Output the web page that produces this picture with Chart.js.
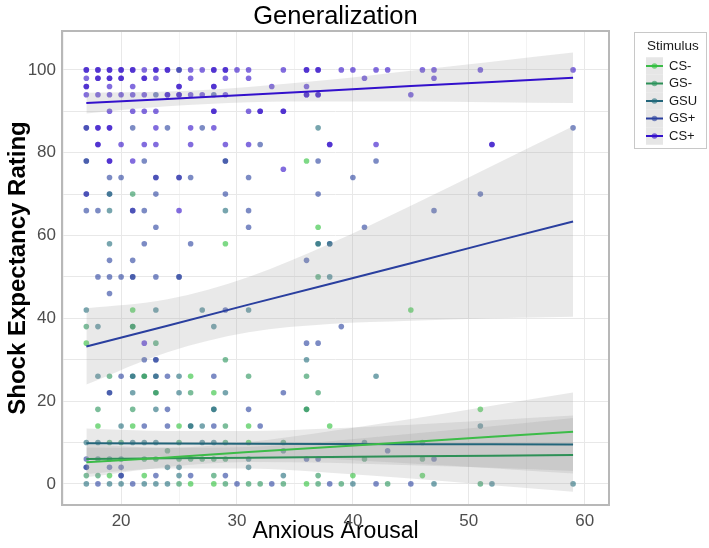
<!DOCTYPE html>
<html>
<head>
<meta charset="utf-8">
<script src="https://cdn.jsdelivr.net/npm/chart.js@4.4.1/dist/chart.umd.min.js"></script>
<style>
  html, body { margin: 0; padding: 0; background: #fff; }
  #chart { display: block; }
</style>
</head>
<body>
<canvas id="chart" width="709" height="548"></canvas>
<script>
const groups = ['CS-', 'GS-', 'GSU', 'GS+', 'CS+'];
const pointColors = ['rgba(47,194,59,0.62)', 'rgba(42,149,92,0.62)', 'rgba(36,109,125,0.62)', 'rgba(44,67,160,0.62)', 'rgba(53,17,201,0.62)'];
const lineColors = ['#3cbc48', '#2e9057', '#23657a', '#2a3f9f', '#3311cc'];

// rows of points: [rating, [anxious arousal values...]]
const csMinusRows = [
  [78, [36]], [62, [37]], [58, [29]], [42, [21, 45]], [34, [17]], [26, [26]],
  [22, [28]], [18, [51]], [14, [18, 21, 25, 31, 38]], [10, [31]],
  [2, [19, 22, 40, 46]], [0, [26, 28, 36]]
];
const gsMinusRows = [
  [70, [21]], [50, [37]], [38, [17, 21, 21]], [34, [23]], [30, [29]],
  [26, [19, 22, 22, 31, 36]], [22, [23, 23, 26, 37]], [18, [18, 21, 36, 36]],
  [14, [29]], [10, [19, 20, 25, 29, 34, 46]], [8, [24]],
  [6, [22, 23, 25, 26, 27, 28, 29, 41, 46]], [2, [17, 18, 28, 37]],
  [0, [25, 29, 31, 32, 34, 37, 39, 43, 51]]
];
const gsuRows = [
  [86, [37]], [70, [19]], [66, [19, 29]], [58, [19, 37, 37, 38]], [50, [38]],
  [42, [17, 23, 27, 31]], [38, [18, 28]], [30, [36]], [26, [18, 21, 21, 23, 25, 42]],
  [22, [21, 25, 29]], [18, [23, 28, 28]], [14, [20, 26, 26, 27, 51]],
  [10, [17, 18, 21, 22, 23, 27, 28, 41]], [8, [34]], [6, [18, 19, 20, 31]],
  [4, [24, 25, 31]], [2, [25, 34]], [0, [17, 19, 20, 22, 23, 24, 40, 47, 52, 59]]
];
const gsPlusRows = [
  [100, [25]], [94, [23, 28]], [86, [17, 21, 24, 27, 59]], [82, [32]],
  [78, [17, 17, 22, 29, 29, 37, 42]], [74, [19, 20, 23, 25, 26, 31, 40]],
  [70, [17, 19, 23, 29, 37, 51]], [66, [17, 18, 21, 22, 31, 47]], [62, [23, 31, 41]],
  [58, [22, 26, 38]], [54, [19, 21, 36]], [50, [18, 19, 20, 21, 21, 23, 25, 25]],
  [46, [19]], [42, [29]], [38, [39]], [34, [36, 37]], [30, [22, 23, 23]],
  [26, [20, 23, 24, 28]], [22, [19, 19, 34]], [18, [24, 31]], [14, [22, 24, 28, 32]],
  [8, [43]], [6, [17, 36, 37, 47]], [4, [17, 17, 19, 20]], [2, [20, 20, 23, 26, 29]],
  [0, [18, 21, 30, 33, 38, 42, 45]]
];
const csPlusRows = [
  [100, [17, 17, 18, 18, 19, 19, 20, 20, 21, 21, 22, 23, 23, 24, 24, 25, 26, 27, 28, 28,
         29, 29, 30, 31, 34, 36, 36, 37, 37, 39, 40, 42, 43, 46, 47, 51, 59]],
  [98, [17, 18, 18, 19, 19, 20, 20, 22, 22, 23, 26, 29, 31, 41, 47]],
  [96, [17, 17, 19, 21, 25, 25, 28, 28, 33, 36]],
  [94, [17, 18, 19, 20, 21, 22, 24, 24, 25, 25, 26, 27, 29, 36, 36, 37, 37, 45]],
  [90, [19, 21, 22, 23, 28, 28, 31, 32, 32, 34, 34]],
  [86, [17, 18, 18, 19, 19, 23, 26, 28]],
  [82, [18, 18, 20, 22, 23, 26, 29, 31, 38, 38, 42, 52, 52]],
  [78, [19, 19, 21]], [76, [34]], [74, [23, 25]], [70, [17]], [66, [21, 25]], [34, [22]]
];

// linear fits and confidence bands, read at these x positions
const fitX = [17, 24, 31, 38, 45, 52, 59];
const csMinusFit = [5.2, 6.4, 7.7, 8.9, 10.1, 11.4, 12.6];
const csMinusLo = [1.6, 4.1, 5.3, 5.1, 4.5, 3.9, 3.1];
const csMinusHi = [8.8, 8.7, 10.1, 12.7, 15.7, 18.9, 22.1];
const gsMinusFit = [6.0, 6.2, 6.3, 6.5, 6.7, 6.8, 7.0];
const gsMinusLo = [2.4, 3.7, 3.7, 2.7, 1.3, -0.3, -1.9];
const gsMinusHi = [9.6, 8.7, 8.9, 10.3, 12.1, 13.9, 15.9];
const gsuFit = [9.8, 9.75, 9.7, 9.65, 9.6, 9.55, 9.5];
const gsuLo = [6.2, 6.7, 6.6, 6.0, 4.9, 3.8, 2.5];
const gsuHi = [13.4, 12.8, 12.8, 13.4, 14.3, 15.4, 16.5];
const gsPlusFit = [33.2, 38.2, 43.3, 48.3, 53.3, 58.4, 63.4];
const gsPlusLo = [24.0, 31.8, 36.6, 38.6, 39.4, 40.0, 40.4];
const gsPlusHi = [42.4, 44.6, 50.0, 58.0, 67.2, 76.8, 86.4];
const csPlusFit = [92.0, 93.0, 94.0, 95.0, 96.1, 97.1, 98.1];
const csPlusLo = [89.5, 91.2, 92.2, 92.4, 92.4, 92.2, 92.0];
const csPlusHi = [94.5, 94.8, 95.9, 97.6, 99.8, 102.0, 104.2];

const xTicks = [15, 20, 25, 30, 35, 40, 45, 50, 55, 60];
const yTicks = [0, 10, 20, 30, 40, 50, 60, 70, 80, 90, 100];

const series = [
  { rows: csMinusRows, fit: csMinusFit, lo: csMinusLo, hi: csMinusHi },
  { rows: gsMinusRows, fit: gsMinusFit, lo: gsMinusLo, hi: gsMinusHi },
  { rows: gsuRows, fit: gsuFit, lo: gsuLo, hi: gsuHi },
  { rows: gsPlusRows, fit: gsPlusFit, lo: gsPlusLo, hi: gsPlusHi },
  { rows: csPlusRows, fit: csPlusFit, lo: csPlusLo, hi: csPlusHi }
];

const FONT = '"Liberation Sans", Arial, Helvetica, sans-serif';

function toPoints(rows) {
  const pts = [];
  rows.forEach(([y, xs]) => xs.forEach(x => pts.push({ x: x, y: y })));
  return pts;
}
function alongFit(values) {
  return fitX.map((x, i) => ({ x: x, y: values[i] }));
}

const datasets = [];
series.forEach((s, i) => {
  datasets.push({
    label: groups[i],
    data: toPoints(s.rows),
    backgroundColor: pointColors[i],
    pointRadius: 2.8,
    pointBorderWidth: 0,
    showLine: false,
    order: 3
  });
});
series.forEach((s, i) => {
  datasets.push({
    label: groups[i] + ' lo',
    data: alongFit(s.lo),
    showLine: true,
    borderWidth: 0,
    borderColor: 'rgba(0,0,0,0)',
    pointRadius: 0,
    cubicInterpolationMode: 'monotone',
    fill: false,
    order: 2
  });
  datasets.push({
    label: groups[i] + ' hi',
    data: alongFit(s.hi),
    showLine: true,
    borderWidth: 0,
    borderColor: 'rgba(0,0,0,0)',
    pointRadius: 0,
    cubicInterpolationMode: 'monotone',
    fill: '-1',
    backgroundColor: 'rgba(153,153,153,0.22)',
    order: 2
  });
});
series.forEach((s, i) => {
  datasets.push({
    label: groups[i] + ' fit',
    data: alongFit(s.fit),
    showLine: true,
    borderColor: lineColors[i],
    borderWidth: 2,
    pointRadius: 0,
    fill: false,
    order: 1
  });
});

const panelBorder = {
  id: 'panelBorder',
  afterDatasetsDraw(chart) {
    const a = chart.chartArea;
    const ctx = chart.ctx;
    ctx.save();
    ctx.strokeStyle = '#b8b8b8';
    ctx.lineWidth = 2;
    ctx.strokeRect(a.left, a.top, a.right - a.left, a.bottom - a.top);
    ctx.restore();
  }
};

const stimulusLegend = {
  id: 'stimulusLegend',
  afterDraw(chart) {
    const ctx = chart.ctx;
    ctx.save();
    ctx.strokeStyle = '#c8c8c8';
    ctx.lineWidth = 1;
    ctx.strokeRect(634.5, 32.5, 72, 116);
    ctx.fillStyle = '#1a1a1a';
    ctx.font = '13.5px ' + FONT;
    ctx.textBaseline = 'alphabetic';
    ctx.fillText('Stimulus', 647, 50);
    ctx.font = '13px ' + FONT;
    groups.forEach((g, i) => {
      const cy = 66 + i * 17.5;
      ctx.fillStyle = '#e6e6e6';
      ctx.fillRect(646, cy - 8.75, 17, 17.5);
      ctx.strokeStyle = lineColors[i];
      ctx.lineWidth = 2;
      ctx.beginPath();
      ctx.moveTo(646, cy);
      ctx.lineTo(663, cy);
      ctx.stroke();
      ctx.fillStyle = pointColors[i];
      ctx.beginPath();
      ctx.arc(654.5, cy, 2.8, 0, Math.PI * 2);
      ctx.fill();
      ctx.fillStyle = '#1a1a1a';
      ctx.textBaseline = 'middle';
      ctx.fillText(g, 669, cy);
    });
    ctx.restore();
  }
};

const gridColor = (c) => (c.tick && c.tick.value % 10 === 0) ? '#e8e8e8' : '#f3f3f3';

new Chart(document.getElementById('chart').getContext('2d'), {
  type: 'scatter',
  data: { datasets: datasets },
  options: {
    responsive: false,
    animation: false,
    layout: { padding: { left: 0, right: 100, top: 0, bottom: 0 } },
    plugins: {
      legend: { display: false },
      tooltip: { enabled: false },
      title: {
        display: true,
        text: 'Generalization',
        fullSize: false,
        color: '#000',
        font: { family: FONT, size: 25.5, weight: 'normal', lineHeight: 1 },
        padding: { top: 4, bottom: 1.5 }
      }
    },
    scales: {
      x: {
        type: 'linear',
        min: 14.9,
        max: 62.1,
        afterBuildTicks: (scale) => { scale.ticks = xTicks.map(v => ({ value: v })); },
        afterFit: (scale) => { scale.height = 43; },
        grid: { color: gridColor, lineWidth: 1, drawTicks: false },
        border: { display: false },
        ticks: {
          autoSkip: false,
          maxRotation: 0,
          padding: 6,
          color: '#4d4d4d',
          font: { family: FONT, size: 17 },
          callback: (v) => v % 10 === 0 ? v : ''
        },
        title: {
          display: true,
          text: 'Anxious Arousal',
          color: '#000',
          font: { family: FONT, size: 23 },
          padding: { top: 0, bottom: 3 }
        }
      },
      y: {
        type: 'linear',
        min: -5.1,
        max: 109.4,
        afterBuildTicks: (scale) => { scale.ticks = yTicks.map(v => ({ value: v })); },
        afterFit: (scale) => { scale.width = 62; },
        grid: { color: gridColor, lineWidth: 1, drawTicks: false },
        border: { display: false },
        ticks: {
          autoSkip: false,
          padding: 6,
          color: '#4d4d4d',
          font: { family: FONT, size: 17 },
          callback: (v) => v % 20 === 0 ? v : ''
        },
        title: {
          display: true,
          text: 'Shock Expectancy Rating',
          color: '#000',
          font: { family: FONT, size: 24, weight: 'bold' },
          padding: { top: 4, bottom: 4 }
        }
      }
    }
  },
  plugins: [panelBorder, stimulusLegend]
});
</script>
</body>
</html>
